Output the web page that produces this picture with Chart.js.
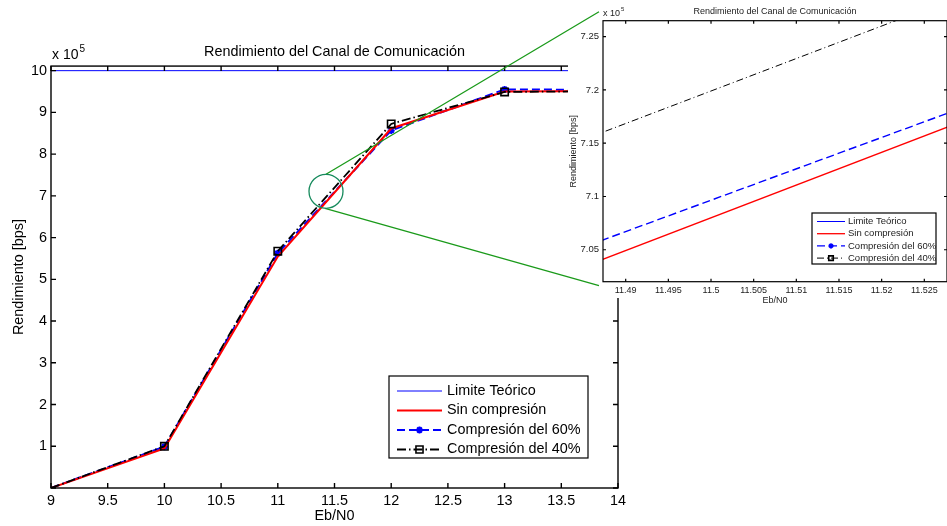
<!DOCTYPE html>
<html>
<head>
<meta charset="utf-8">
<script src="https://cdn.jsdelivr.net/npm/chart.js@4.4.0/dist/chart.umd.min.js"></script>
<style>
	body { margin: 0; background: #fff; }
	#wrap { position: relative; width: 947px; height: 526px; overflow: hidden; }
	#main { position: absolute; left: 0; top: 0; }
	#insetBg { position: absolute; left: 568px; top: 0; width: 379px; height: 298px; background: #fff; }
	#inset { position: absolute; left: 568px; top: 0; }
	#overlay { position: absolute; left: 0; top: 0; pointer-events: none; }
</style>
</head>
<body>
<div id="wrap">
	<canvas id="main" width="947" height="526"></canvas>
	<div id="insetBg"></div>
	<canvas id="inset" width="379" height="310"></canvas>
	<canvas id="overlay" width="947" height="526"></canvas>
</div>
<script>
// datos (rendimiento en unidades de 10^5 bps)
var ebn0 = [9, 10, 11, 12, 13, 14];
var limiteX = [9, 14];
var limite = [10, 10];
var sinCompresion = [0, 0.95, 5.545, 8.615, 9.5, 9.51];
var compresion60 = [0, 0.99, 5.624, 8.569, 9.55, 9.54];
var compresion40 = [0, 1.0, 5.674, 8.724, 9.49, 9.51];
var nombres = ['Limite Teórico', 'Sin compresión', 'Compresión del 60%', 'Compresión del 40%'];
var titulo = 'Rendimiento del Canal de Comunicación';
var tituloX = 'Eb/N0';
var tituloY = 'Rendimiento [bps]';
// zona ampliada
var lupa = { x: 11.425, y: 7.11 };
var zoomX = [11.48734, 11.52766];
var zoomY = [7.02, 7.265];

var FAM = '"Liberation Sans", Arial, Helvetica, sans-serif';
var FS = 14.4;

function pts(xs, ys) {
	return xs.map(function(x, i) { return { x: x, y: ys[i] }; });
}

function fmt(v) {
	return String(Math.round(v * 10000) / 10000);
}

function markerRadius(r) {
	return function(c) {
		var n = c.dataset.data.length;
		return (c.dataIndex > 0 && c.dataIndex < n - 1) ? r : 0;
	};
}

function makeDatasets(big) {
	return [{
		label: nombres[0],
		data: pts(limiteX, limite),
		borderColor: '#0000ff',
		borderWidth: 1,
		pointRadius: 0,
		order: 3
	}, {
		label: nombres[1],
		data: pts(ebn0, sinCompresion),
		borderColor: '#ff0000',
		borderWidth: big ? 2 : 1.3,
		pointRadius: 0,
		order: 1
	}, {
		label: nombres[2],
		data: pts(ebn0, compresion60),
		borderColor: '#0000ff',
		borderWidth: big ? 2 : 1.4,
		borderDash: [8, 4],
		pointStyle: 'star',
		pointRadius: big ? markerRadius(3.5) : 0,
		pointBorderWidth: 2,
		pointBorderColor: '#0000ff',
		pointBackgroundColor: '#0000ff',
		legendMarker: big ? 3.5 : 2.5,
		order: 2
	}, {
		label: nombres[3],
		data: pts(ebn0, compresion40),
		borderColor: '#000000',
		borderWidth: big ? 1.8 : 1,
		borderDash: big ? [9, 3, 1.5, 3] : [7, 3, 1, 3],
		pointStyle: 'rect',
		pointRadius: big ? markerRadius(5.2) : 0,
		pointBorderWidth: 1.6,
		pointBorderColor: '#000000',
		pointBackgroundColor: 'rgba(0,0,0,0)',
		legendMarker: big ? 5 : 3.2,
		order: 0
	}];
}

// caja y marcas hacia dentro (estilo MATLAB)
var boxPlugin = {
	id: 'matlabBox',
	afterDatasetsDraw(chart, args, o) {
		var a = chart.chartArea, ctx = chart.ctx, tl = o.tick;
		var sx = chart.scales.x, sy = chart.scales.y;
		ctx.save();
		ctx.strokeStyle = '#000';
		ctx.lineWidth = o.width;
		ctx.strokeRect(a.left, a.top, a.right - a.left, a.bottom - a.top);
		ctx.beginPath();
		sx.ticks.forEach(function(t) {
			var p = sx.getPixelForValue(t.value);
			ctx.moveTo(p, a.bottom); ctx.lineTo(p, a.bottom - tl);
			ctx.moveTo(p, a.top); ctx.lineTo(p, a.top + tl);
		});
		sy.ticks.forEach(function(t) {
			var p = sy.getPixelForValue(t.value);
			ctx.moveTo(a.left, p); ctx.lineTo(a.left + tl, p);
			ctx.moveTo(a.right, p); ctx.lineTo(a.right - tl, p);
		});
		ctx.stroke();
		// x 10^5
		ctx.fillStyle = o.color;
		ctx.textBaseline = 'middle';
		ctx.textAlign = 'left';
		ctx.font = o.expSize + 'px ' + FAM;
		var base = 'x 10';
		ctx.fillText(base, a.left + o.expDx, a.top - o.expDy);
		var w = ctx.measureText(base).width;
		ctx.font = Math.round(o.expSize * 0.68) + 'px ' + FAM;
		ctx.fillText('5', a.left + o.expDx + w + 1, a.top - o.expDy - o.expSize * 0.45);
		ctx.restore();
	}
};

var legendPlugin = {
	id: 'boxLegend',
	afterDraw(chart, args, o) {
		var ctx = chart.ctx;
		ctx.save();
		ctx.fillStyle = '#fff';
		ctx.fillRect(o.x, o.y, o.w, o.h);
		ctx.strokeStyle = '#000';
		ctx.lineWidth = o.border;
		ctx.strokeRect(o.x, o.y, o.w, o.h);
		ctx.font = o.size + 'px ' + FAM;
		ctx.textBaseline = 'middle';
		ctx.textAlign = 'left';
		chart.data.datasets.forEach(function(ds, i) {
			var y = o.y + o.first + i * o.row;
			ctx.strokeStyle = ds.borderColor;
			ctx.lineWidth = ds.borderWidth;
			ctx.setLineDash(ds.borderDash || []);
			ctx.beginPath();
			ctx.moveTo(o.x + o.l0, y);
			ctx.lineTo(o.x + o.l1, y);
			ctx.stroke();
			ctx.setLineDash([]);
			if (ds.legendMarker) {
				ctx.strokeStyle = ds.pointBorderColor;
				ctx.fillStyle = ds.pointBackgroundColor;
				ctx.lineWidth = ds.pointBorderWidth;
				Chart.helpers.drawPoint(ctx, {
					pointStyle: ds.pointStyle,
					radius: ds.legendMarker,
					borderWidth: ds.pointBorderWidth,
					rotation: 0
				}, o.x + (o.l0 + o.l1) / 2, y);
			}
			ctx.fillStyle = o.color;
			ctx.fillText(ds.label, o.x + o.tx, y);
		});
		ctx.restore();
	}
};

function axisFont(size) {
	return { family: FAM, size: size };
}

var mainChart = new Chart(document.getElementById('main'), {
	type: 'line',
	data: { datasets: makeDatasets(true) },
	plugins: [boxPlugin, legendPlugin],
	options: {
		responsive: false,
		animation: false,
		events: [],
		layout: { padding: { top: 36, right: 329, left: 0, bottom: 0 } },
		plugins: {
			legend: { display: false },
			tooltip: { enabled: false },
			title: {
				display: true, text: titulo, color: '#000', fullSize: false,
				font: { family: FAM, size: FS, weight: 'normal' },
				padding: { top: 7.4, bottom: 5.4 }
			},
			matlabBox: { tick: 5, width: 1.4, expSize: 14, expDx: 1, expDy: 11, color: '#000' },
			boxLegend: { x: 389, y: 376, w: 199, h: 82, border: 1.2, first: 15, row: 19.5, l0: 8, l1: 53, tx: 58, size: FS, color: '#000' }
		},
		scales: {
			x: {
				type: 'linear', min: 9, max: 14,
				grid: { display: false, drawTicks: false }, border: { display: false },
				ticks: { stepSize: 0.5, includeBounds: false, autoSkip: false, maxRotation: 0, color: '#000', font: axisFont(FS), padding: 4, callback: fmt },
				title: { display: true, text: tituloX, color: '#000', font: axisFont(FS), padding: { top: 0, bottom: 1.5 } },
				afterFit: function(s) { s.height = 38; }
			},
			y: {
				type: 'linear', min: 0, max: 10.11,
				grid: { display: false, drawTicks: false }, border: { display: false },
				ticks: { stepSize: 1, includeBounds: false, color: '#000', font: axisFont(FS), padding: 4, callback: function(v) { return v === 0 ? '' : fmt(v); } },
				title: { display: true, text: tituloY, color: '#000', font: axisFont(FS), padding: { top: 10, bottom: 0 } },
				afterFit: function(s) { s.width = 51; }
			}
		}
	}
});

var insetChart = new Chart(document.getElementById('inset'), {
	type: 'line',
	data: { datasets: makeDatasets(false) },
	plugins: [boxPlugin, legendPlugin],
	options: {
		responsive: false,
		animation: false,
		events: [],
		layout: { padding: 0 },
		plugins: {
			legend: { display: false },
			tooltip: { enabled: false },
			title: {
				display: true, text: titulo, color: '#222', fullSize: false,
				font: { family: FAM, size: 9, weight: 'normal' },
				padding: { top: 6.3, bottom: 3.6 }
			},
			matlabBox: { tick: 3, width: 1.2, expSize: 9, expDx: 0, expDy: 7, color: '#222' },
			boxLegend: { x: 244, y: 213, w: 124, h: 51, border: 1.2, first: 8.5, row: 12.2, l0: 5, l1: 33, tx: 36, size: 9.5, color: '#222' }
		},
		scales: {
			x: {
				type: 'linear', min: zoomX[0], max: zoomX[1],
				grid: { display: false, drawTicks: false }, border: { display: false },
				ticks: { stepSize: 0.005, includeBounds: false, autoSkip: false, maxRotation: 0, color: '#222', font: axisFont(9), padding: 3, callback: fmt },
				title: { display: true, text: tituloX, color: '#222', font: axisFont(9), padding: { top: 0, bottom: 3.6 } },
				afterFit: function(s) { s.height = 28.3; }
			},
			y: {
				type: 'linear', min: zoomY[0], max: zoomY[1],
				grid: { display: false, drawTicks: false }, border: { display: false },
				ticks: { stepSize: 0.05, includeBounds: false, color: '#222', font: axisFont(9.5), padding: 4, callback: fmt },
				title: { display: true, text: tituloY, color: '#222', font: axisFont(9), padding: { top: 0, bottom: 0 } },
				afterFit: function(s) { s.width = 35; }
			}
		}
	}
});

// círculo de ampliación y líneas hacia el recuadro
(function() {
	var ctx = document.getElementById('overlay').getContext('2d');
	var off = 568;
	var cx = mainChart.scales.x.getPixelForValue(lupa.x);
	var cy = mainChart.scales.y.getPixelForValue(lupa.y);
	var r = 17;
	var ia = insetChart.chartArea;
	ctx.save();
	ctx.lineWidth = 1.3;
	ctx.strokeStyle = '#1a9a1a';
	ctx.beginPath();
	ctx.moveTo(cx, cy - r);
	ctx.lineTo(ia.left + off - 4, ia.top - 9);
	ctx.moveTo(cx - 1, cy + r);
	ctx.lineTo(ia.left + off - 4, ia.bottom + 4);
	ctx.stroke();
	ctx.strokeStyle = '#168a5c';
	ctx.beginPath();
	ctx.arc(cx, cy, r, 0, Math.PI * 2);
	ctx.stroke();
	ctx.restore();
})();
</script>
</body>
</html>
